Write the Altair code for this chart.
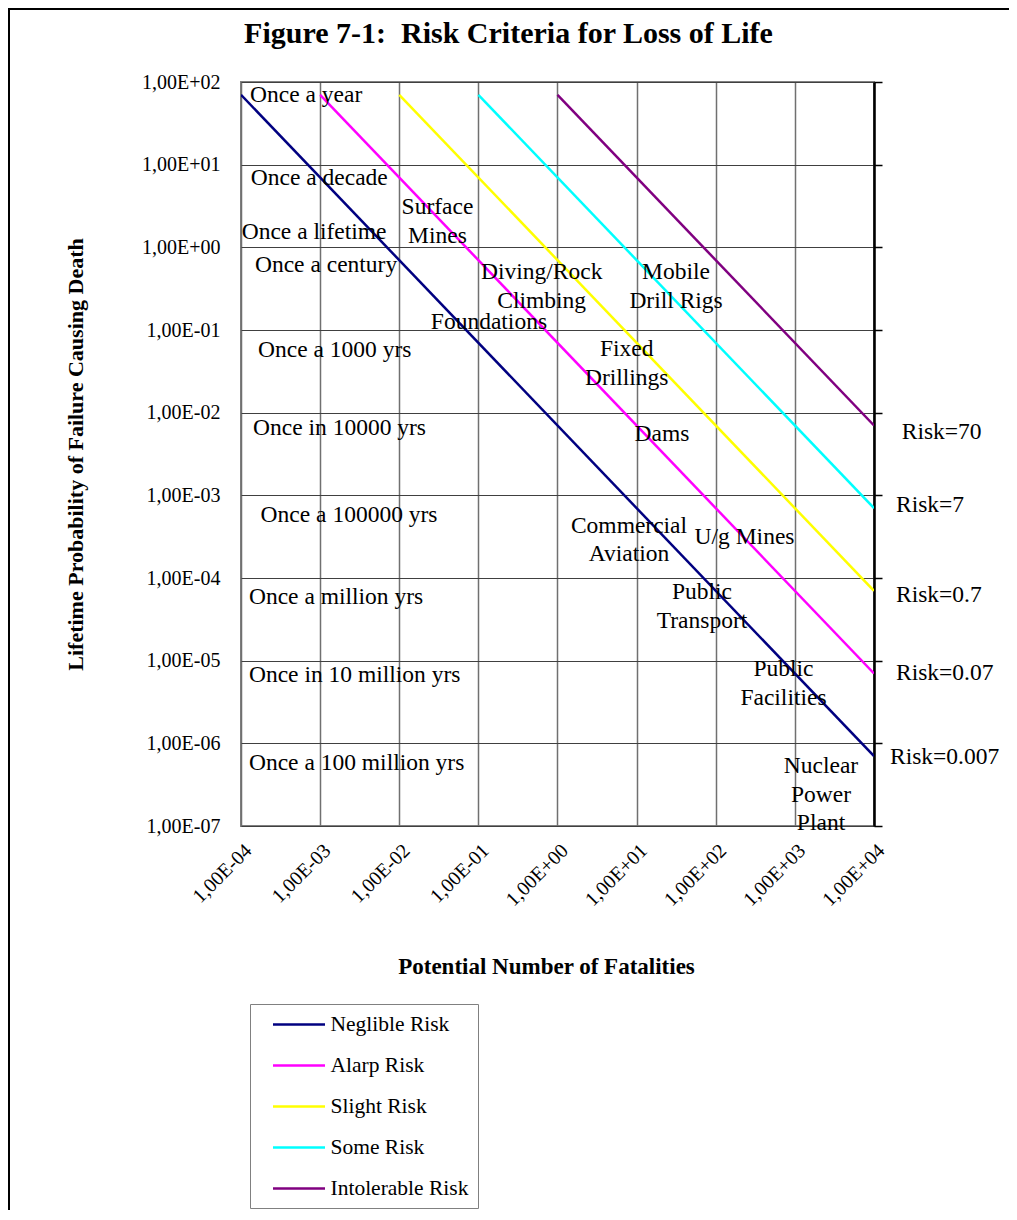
import altair as alt
import pandas as pd

# ---------------- data ----------------
series_names = ["Neglible Risk", "Alarp Risk", "Slight Risk", "Some Risk", "Intolerable Risk"]
series_colors = ["#000080", "#FF00FF", "#FFFF00", "#00FFFF", "#800080"]
x_start = [1e-4, 1e-3, 1e-2, 1e-1, 1e0]
y_start = [70, 70, 70, 70, 70]
x_end = [1e4, 1e4, 1e4, 1e4, 1e4]
y_end = [7e-7, 7e-6, 7e-5, 7e-4, 7e-3]

x_ticks = [1e-4, 1e-3, 1e-2, 1e-1, 1e0, 1e1, 1e2, 1e3, 1e4]
x_tick_labels = ["1,00E-04", "1,00E-03", "1,00E-02", "1,00E-01", "1,00E+00",
                 "1,00E+01", "1,00E+02", "1,00E+03", "1,00E+04"]
y_ticks = [1e-7, 1e-6, 1e-5, 1e-4, 1e-3, 1e-2, 1e-1, 1e0, 1e1, 1e2]
y_tick_labels = ["1,00E-07", "1,00E-06", "1,00E-05", "1,00E-04", "1,00E-03",
                 "1,00E-02", "1,00E-01", "1,00E+00", "1,00E+01", "1,00E+02"]

freq_labels = ["Once a year", "Once a decade", "Once a lifetime", "Once a century",
               "Once a 1000 yrs", "Once in 10000 yrs", "Once a 100000 yrs",
               "Once a million yrs", "Once in 10 million yrs", "Once a 100 million yrs"]
freq_x = [1.30e-4, 1.33e-4, 1.02e-4, 1.50e-4, 1.64e-4, 1.42e-4, 1.77e-4, 1.26e-4, 1.26e-4, 1.26e-4]
freq_y = [69.6, 6.90, 1.55, 0.611, 0.0573, 6.53e-3, 5.78e-4, 5.94e-5, 6.71e-6, 5.78e-7]

activity_labels = ["Surface\nMines", "Diving/Rock\nClimbing", "Foundations", "Fixed\nDrillings",
                   "Mobile\nDrill Rigs", "Dams", "Commercial\nAviation", "U/g Mines",
                   "Public\nTransport", "Public\nFacilities", "Nuclear\nPower\nPlant"]
activity_x = [0.0304, 0.631, 0.136, 7.50, 31.5, 20.9, 8.01, 231.0, 67.0, 718.0, 2140.0]
activity_y = [3.05, 0.499, 0.126, 0.0589, 0.499, 5.52e-3, 4.28e-4, 3.16e-4, 6.68e-5, 7.88e-6, 5.26e-7]

risk_labels = ["Risk=70", "Risk=7", "Risk=0.7", "Risk=0.07", "Risk=0.007"]
risk_x = [22400.0, 18970.0, 18970.0, 18970.0, 15920.0]
risk_y = [5.89e-3, 7.64e-4, 6.22e-5, 7.15e-6, 6.78e-7]

# ---------------- tables ----------------
rows = []
for i, name in enumerate(series_names):
    rows.append({"series": name, "x": x_start[i], "y": y_start[i], "o": 0})
    rows.append({"series": name, "x": x_end[i], "y": y_end[i], "o": 1})
lines_df = pd.DataFrame(rows)
freq_df = pd.DataFrame({"label": freq_labels, "x": freq_x, "y": freq_y})
act_df = pd.DataFrame({"label": activity_labels, "x": activity_x, "y": activity_y})
risk_df = pd.DataFrame({"label": risk_labels, "x": risk_x, "y": risk_y})
yt_df = pd.DataFrame({"y": y_ticks})

FONT = "Liberation Serif"


def label_expr(labels, ticks):
    import math
    first = round(math.log10(ticks[0]))
    arr = "[" + ",".join("'" + s + "'" for s in labels) + "]"
    return arr + "[round(log(datum.value)/LN10) - (" + str(first) + ")]"


x_scale = alt.Scale(type="log", domain=[x_ticks[0], x_ticks[-1]], nice=False)
y_scale = alt.Scale(type="log", domain=[y_ticks[0], y_ticks[-1]], nice=False)

x_axis = alt.Axis(values=x_ticks, labelExpr=label_expr(x_tick_labels, x_ticks),
                  labelAngle=-45, labelFont=FONT, labelFontSize=20, labelColor="black",
                  labelPadding=14, ticks=False, domain=False, grid=True,
                  gridColor="#707070", gridWidth=1.5,
                  title="Potential Number of Fatalities", titleFont=FONT, titleFontSize=23,
                  titleFontWeight="bold", titleColor="black", titleX=305, titleY=140,
                  titleAlign="center", titleBaseline="middle")
y_axis = alt.Axis(values=y_ticks, labelExpr=label_expr(y_tick_labels, y_ticks),
                  labelFont=FONT, labelFontSize=20, labelColor="black", labelPadding=21,
                  ticks=False, domain=False, grid=True, gridColor="#404040", gridWidth=1.2,
                  title="Lifetime Probability of Failure Causing Death", titleFont=FONT,
                  titleFontSize=22, titleFontWeight="bold", titleColor="black",
                  titleX=-166, titleY=372, titleAlign="center", titleBaseline="middle",
                  titleAngle=-90)

lines = alt.Chart(lines_df).mark_line(strokeWidth=2.5, clip=True).encode(
    x=alt.X("x:Q", scale=x_scale, axis=x_axis),
    y=alt.Y("y:Q", scale=y_scale, axis=y_axis),
    order="o:Q",
    color=alt.Color("series:N",
                    scale=alt.Scale(domain=series_names, range=series_colors),
                    sort=series_names,
                    legend=alt.Legend(orient="none", legendX=9, legendY=922, title=None,
                                      symbolType="M-2.6,0H2.6", symbolSize=400,
                                      symbolStrokeWidth=2.5, symbolOffset=28.5,
                                      labelFont=FONT, labelFontSize=21.5, labelColor="black",
                                      labelOffset=20, rowPadding=19, padding=9,
                                      strokeColor="#808080", fillColor="white")),
)

right_axis = alt.Chart(yt_df).mark_point(opacity=0).encode(
    y=alt.Y("y:Q", scale=y_scale,
            axis=alt.Axis(orient="right", values=y_ticks, labels=False, grid=False,
                          domainColor="black", domainWidth=2.5, tickColor="black",
                          tickWidth=1.5, tickSize=8, title=None)),
)

text_common = dict(font=FONT, fontSize=23.5, color="black", lineHeight=28.5)

freq_text = alt.Chart(freq_df).mark_text(align="left", baseline="middle", **text_common).encode(
    x=alt.X("x:Q", scale=x_scale, axis=None),
    y=alt.Y("y:Q", scale=y_scale, axis=None),
    text="label:N",
)
act_text = alt.Chart(act_df).mark_text(align="center", baseline="middle", lineBreak="\n",
                                       **text_common).encode(
    x=alt.X("x:Q", scale=x_scale, axis=None),
    y=alt.Y("y:Q", scale=y_scale, axis=None),
    text="label:N",
)
risk_text = alt.Chart(risk_df).mark_text(align="left", baseline="middle", **text_common).encode(
    x=alt.X("x:Q", scale=x_scale, axis=None),
    y=alt.Y("y:Q", scale=y_scale, axis=None),
    text="label:N",
)

# outer frame (left and top edges of the figure)
frame_top = alt.Chart(yt_df.head(1)).mark_rule(color="black", strokeWidth=2).encode(
    x=alt.value(-233), x2=alt.value(768), y=alt.value(-73))
frame_left = alt.Chart(yt_df.head(1)).mark_rule(color="black", strokeWidth=2).encode(
    x=alt.value(-232), y=alt.value(-74), y2=alt.value(1130))

chart = alt.layer(lines, right_axis, freq_text, act_text, risk_text, frame_top, frame_left).resolve_axis(
    x="independent", y="independent"
).properties(
    width=633, height=744,
    autosize=alt.AutoSizeParams(type="none"),
    padding={"left": 233, "top": 74, "right": 135, "bottom": 384},
    title=alt.TitleParams(text="Figure 7-1:\u00a0 Risk Criteria for Loss of Life", font=FONT,
                          fontSize=30, fontWeight="bold", color="black", anchor="middle",
                          frame="bounds", offset=-66, baseline="alphabetic"),
    background="white",
).configure_view(stroke="#808080", strokeWidth=2)

chart.save("out.html", embed_options={"renderer": "svg", "actions": False})
